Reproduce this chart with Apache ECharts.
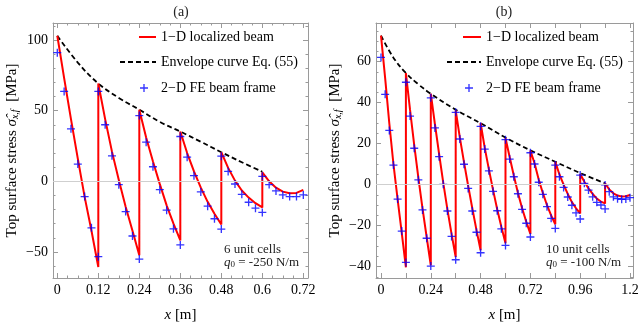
<!DOCTYPE html>
<html><head><meta charset="utf-8">
<script src="https://cdn.jsdelivr.net/npm/echarts@6/dist/echarts.min.js"></script>
<style>html,body{margin:0;padding:0;background:#fff}#c{width:640px;height:324px}</style>
</head><body><div id="c"></div>
<script>
// ---------- Panel (a): 6 unit cells ----------
const cellStepsA = [0, 0.02, 0.04, 0.06, 0.08, 0.10, 0.12];
const cellStartsA = [0, 0.12, 0.24, 0.36, 0.48, 0.60];
const localizedA = [
  [103, 73, 44, 16, -11, -35, -60.6],
  [69.2, 44, 21, 1, -18, -35, -52.3],
  [50.7, 31, 14, -2, -17, -30, -41.8],
  [35.2, 20, 7, -4.5, -14.5, -23, -30.5],
  [20.6, 9.5, 0.5, -6.5, -11.5, -15.5, -18.5],
  [6.3, 0, -4.5, -7.3, -8.5, -8.2, -6.1]
];
const feA = [
  [91, 63.6, 37.1, 12.2, -10.8, -32.9, -53.3],
  [63.6, 40, 18, -2.4, -21.4, -38.7, -55],
  [46.5, 27.7, 10.3, -5.9, -20.4, -33.6, -45],
  [31.7, 17.1, 4, -7.5, -17.6, -26.5, -33.8],
  [17.8, 7, -1.9, -9.2, -14.8, -19, -22],
  [3.5, -2.3, -6.8, -9.6, -10.8, -10.8, -9.6]
];
const envelopeXA = [0, 0.06, 0.12, 0.18, 0.24, 0.30, 0.36, 0.42, 0.48, 0.54, 0.60];
const envelopeYA = [103, 84, 69.2, 59, 50.7, 42, 35.2, 28, 20.6, 13.5, 6.8];
const xTicksA = [0, 0.12, 0.24, 0.36, 0.48, 0.6, 0.72];
const yTicksA = [-50, 0, 50, 100];

// ---------- Panel (b): 10 unit cells ----------
const cellStepsB = [0, 0.02, 0.04, 0.06, 0.08, 0.10, 0.12];
const cellStartsB = [0, 0.12, 0.24, 0.36, 0.48, 0.60, 0.72, 0.84, 0.96, 1.08];
const localizedB = [
  [72.7, 52, 30, 10, -7, -23.5, -40.3],
  [54.5, 36.5, 19.5, 3.5, -11.5, -25.5, -39.3],
  [44.4, 29.5, 15, 1, -12, -24, -35.3],
  [36.3, 23, 11, -0.5, -11.5, -22, -32],
  [30.1, 18, 7.5, -2.5, -12, -20.5, -28.5],
  [22.8, 13.5, 4.5, -4, -11.5, -18, -24],
  [16.7, 10.5, 2.5, -4, -10, -15, -19.3],
  [11.2, 5, 0, -4.5, -8.5, -11.5, -14],
  [5.2, 1.5, -1.8, -4.5, -6.8, -8.2, -9.1],
  [0.7, -2.3, -4.2, -5.3, -5.7, -5.6, -5.0]
];
const feB = [
  [62.1, 44.1, 26.5, 9.6, -7, -22.6, -37.9],
  [50, 33.5, 17.8, 2.4, -12.3, -26.1, -39.7],
  [42.4, 27.7, 13.7, 0.2, -12.8, -25.2, -36.6],
  [35.3, 22.3, 10, -1.8, -12.8, -23.2, -33.2],
  [28.5, 17.4, 6.8, -3.2, -12.7, -21.5, -29.6],
  [22, 12.5, 3.9, -4.4, -12, -18.8, -25.5],
  [15.6, 10.1, 1.2, -4.7, -10.7, -16.4, -21.3],
  [9.6, 3.9, -1.3, -6, -10, -13.7, -16.7],
  [4.7, 0.7, -2.6, -5.9, -8.6, -9.9, -11.8],
  [-0.1, -3.4, -5.9, -6.8, -7.1, -7, -6.3]
];
const envelopeXB = [0, 0.06, 0.12, 0.18, 0.24, 0.36, 0.48, 0.60, 0.72, 0.84, 0.96, 1.08];
const envelopeYB = [72.7, 62, 54.5, 49, 44.4, 36.6, 30, 23, 16.8, 11.2, 5.7, 0.7];
const xTickMarksB = [0, 0.12, 0.24, 0.36, 0.48, 0.6, 0.72, 0.84, 0.96, 1.08, 1.2];
const xTicksB = [0, 0.24, 0.48, 0.72, 0.96, 1.2];
const yTicksB = [-40, -20, 0, 20, 40, 60];

const NAME_LOC = '1\u2212D localized beam';
const NAME_ENV = 'Envelope curve Eq. (55)';
const NAME_FE = '2\u2212D FE beam frame';

const SERIF = '"Liberation Serif", "DejaVu Serif", serif';
const FRAME = '#9a9a9a';
const PLUS = 'path://M5,0h2v5h5v2h-5v5h-2v-5h-5v-2h5z';

function cellPairs(starts, steps, vals) {
  const out = [];
  starts.forEach((s, c) => steps.forEach((d, i) => out.push([+(s + d).toFixed(4), vals[c][i]])));
  return out;
}
function pairs(xs, ys) { return xs.map((x, i) => [x, ys[i]]); }
function minorTicks(from, to, step, majorStep) {
  const out = [];
  const n = Math.round((to - from) / step);
  for (let i = 0; i <= n; i++) {
    const v = +(from + i * step).toFixed(6);
    const r = v / majorStep;
    if (Math.abs(r - Math.round(r)) > 1e-6) out.push(v);
  }
  return out;
}
const fmt = v => (v < 0 ? '\u2212' + Math.abs(v) : String(v));

const panels = [
  { grid: { left: 53, top: 23, width: 255, height: 255 }, x: [-0.0126, 0.7337], y: [-68.4, 112],
    xMajor: xTicksA, xLabels: xTicksA, xMinor: minorTicks(0, 0.72, 0.03, 0.12),
    yMajor: yTicksA, yLabels: yTicksA, yMinor: minorTicks(-60, 110, 10, 50),
    loc: cellPairs(cellStartsA, cellStepsA, localizedA), fe: cellPairs(cellStartsA, cellStepsA, feA),
    env: pairs(envelopeXA, envelopeYA) },
  { grid: { left: 376, top: 23, width: 257, height: 255 }, x: [-0.0241, 1.2145], y: [-45.5, 78.9],
    xMajor: xTickMarksB, xLabels: xTicksB, xMinor: [],
    yMajor: yTicksB, yLabels: yTicksB, yMinor: minorTicks(-45, 75, 5, 20),
    loc: cellPairs(cellStartsB, cellStepsB, localizedB), fe: cellPairs(cellStartsB, cellStepsB, feB),
    env: pairs(envelopeXB, envelopeYB) }
];

const xAxes = [], yAxes = [], series = [], grids = [];
const labelStyle = { color: '#000', fontFamily: SERIF, fontSize: 14 };

panels.forEach((p, gi) => {
  grids.push(Object.assign({ containLabel: false, outerBoundsMode: 'none', show: false }, p.grid));
  const bx = { type: 'value', gridIndex: gi, min: p.x[0], max: p.x[1], splitLine: { show: false } };
  const by = { type: 'value', gridIndex: gi, min: p.y[0], max: p.y[1], splitLine: { show: false } };
  ['bottom', 'top'].forEach(pos => {
    if (pos === 'bottom') p.xi = xAxes.length;
    xAxes.push(Object.assign({}, bx, {
      position: pos,
      axisLine: { show: true, onZero: false, lineStyle: { color: FRAME, width: 1 } },
      axisTick: { show: true, inside: true, length: 5, customValues: p.xMajor, lineStyle: { color: FRAME } },
      axisLabel: pos === 'bottom'
        ? Object.assign({ show: true, customValues: p.xLabels, formatter: fmt, margin: 5 }, labelStyle)
        : { show: false },
      name: pos === 'bottom' ? '{i|x} [m]' : '',
      nameLocation: 'middle', nameGap: 30,
      nameTextStyle: { color: '#000', fontFamily: SERIF, fontSize: 15, rich: { i: { fontStyle: 'italic', fontFamily: SERIF, fontSize: 15 } } }
    }));
    if (p.xMinor.length) {
      xAxes.push(Object.assign({}, bx, {
        position: pos, axisLine: { show: false, onZero: false },
        axisTick: { show: true, inside: true, length: 2.5, customValues: p.xMinor, lineStyle: { color: FRAME } },
        axisLabel: { show: false }
      }));
    }
  });
  ['left', 'right'].forEach(pos => {
    if (pos === 'left') p.yi = yAxes.length;
    yAxes.push(Object.assign({}, by, {
      position: pos,
      axisLine: { show: true, onZero: false, lineStyle: { color: FRAME, width: 1 } },
      axisTick: { show: true, inside: true, length: 5, customValues: p.yMajor, lineStyle: { color: FRAME } },
      axisLabel: pos === 'left'
        ? Object.assign({ show: true, customValues: p.yLabels, formatter: fmt, margin: 5 }, labelStyle)
        : { show: false },
      name: pos === 'left' ? 'Top surface stress {s|\u03C3\u0302}{sub|x,f}  [MPa]' : '',
      nameLocation: 'middle', nameGap: 33,
      nameTextStyle: { color: '#000', fontFamily: SERIF, fontSize: 15,
        rich: { s: { fontStyle: 'italic', fontFamily: SERIF, fontSize: 15 },
                sub: { fontStyle: 'italic', fontFamily: SERIF, fontSize: 10, verticalAlign: 'bottom' } } }
    }));
    if (p.yMinor.length) {
      yAxes.push(Object.assign({}, by, {
        position: pos, axisLine: { show: false, onZero: false },
        axisTick: { show: true, inside: true, length: 2.5, customValues: p.yMinor, lineStyle: { color: FRAME } },
        axisLabel: { show: false }
      }));
    }
  });

  series.push({
    type: 'line', name: NAME_ENV, xAxisIndex: p.xi, yAxisIndex: p.yi, data: p.env,
    smooth: 0.4, symbol: 'none', z: 2,
    itemStyle: { color: '#000' },
    lineStyle: { color: '#000', width: 1.8, type: [5, 3] },
    markLine: { silent: true, symbol: 'none', label: { show: false },
      lineStyle: { color: '#cfcfcf', width: 1, type: 'solid' }, data: [{ yAxis: 0 }] }
  });
  series.push({
    type: 'line', name: NAME_LOC, xAxisIndex: p.xi, yAxisIndex: p.yi, data: p.loc,
    symbol: 'none', z: 3, itemStyle: { color: '#ff0000' }, lineStyle: { color: '#ff0000', width: 2 }
  });
  series.push({
    type: 'scatter', name: NAME_FE, xAxisIndex: p.xi, yAxisIndex: p.yi, data: p.fe,
    symbol: PLUS, symbolSize: 8, z: 4, itemStyle: { color: '#0000ff' }
  });
});

function mkLegend(name, left, rowY, w, h, isLine, icon, pad) {
  const item = icon ? { name: name, icon: icon } : { name: name };
  const ts = { color: '#000', fontFamily: SERIF, fontSize: 14 };
  if (pad) ts.padding = [0, 0, 0, pad];
  const lg = {
    left: left, top: rowY - 7, padding: 0, orient: 'horizontal', selectedMode: false,
    itemWidth: w, itemHeight: h, data: [item], textStyle: ts
  };
  if (isLine) lg.itemStyle = { opacity: 0 };
  return lg;
}
const legends = [
  mkLegend(NAME_LOC, 138, 37, 17, 14, true),
  mkLegend(NAME_ENV, 119, 62, 36, 14, true),
  mkLegend(NAME_FE, 140, 88, 8, 8, false, PLUS, 8),
  mkLegend(NAME_LOC, 462, 37, 18, 14, true),
  mkLegend(NAME_ENV, 446, 62, 34, 14, true),
  mkLegend(NAME_FE, 465, 88, 8, 8, false, PLUS, 8)
];

const annoRich = { i: { fontStyle: 'italic', fontFamily: SERIF, fontSize: 13 },
                   s: { fontFamily: SERIF, fontSize: 9, verticalAlign: 'bottom' } };
function txt(x, y, text, size, align, rich) {
  return { type: 'text', x: x, y: y, silent: true,
    style: { text: text, fontFamily: SERIF, fontSize: size, fill: '#222', align: align || 'left',
             verticalAlign: 'middle', rich: rich } };
}
const graphics = [
  txt(181, 12, '(a)', 14, 'center'),
  txt(504, 12, '(b)', 14, 'center'),
  txt(224, 250, '6 unit cells', 13),
  txt(224, 263, '{i|q}{s|0} = -250 N/m', 13, 'left', annoRich),
  txt(546, 250, '10 unit cells', 13),
  txt(546, 263, '{i|q}{s|0} = -100 N/m', 13, 'left', annoRich)
];

const chart = echarts.init(document.getElementById('c'), null, { renderer: 'canvas' });
chart.setOption({
  animation: false,
  backgroundColor: '#fff',
  grid: grids,
  xAxis: xAxes,
  yAxis: yAxes,
  legend: legends,
  graphic: graphics,
  series: series
});
</script></body></html>
